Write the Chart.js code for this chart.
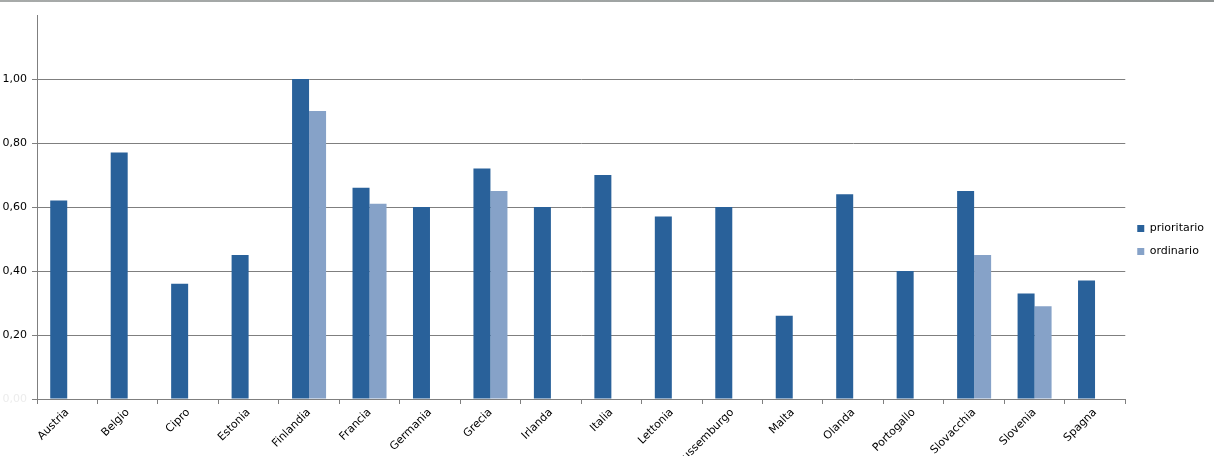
<!DOCTYPE html>
<html>
<head>
<meta charset="utf-8">
<script src="https://cdn.jsdelivr.net/npm/chart.js@4/dist/chart.umd.min.js"></script>
<style>
  html, body { margin: 0; padding: 0; background: #fff; overflow: hidden; }
  #wrap { position: relative; width: 1214px; height: 465px; }
  #topline { position: absolute; left: 0; top: 0; width: 1214px; height: 2px;
             background: linear-gradient(to right, #a7aaa9, #9ea3a2 60%, #8f9493); }
</style>
</head>
<body>
<div id="wrap">
  <canvas id="grafico" width="1214" height="465"></canvas>
  <div id="topline"></div>
</div>
<script>
// dati
const categorie = ['Austria', 'Belgio', 'Cipro', 'Estonia', 'Finlandia', 'Francia', 'Germania', 'Grecia', 'Irlanda',
    'Italia', 'Lettonia', 'Lussemburgo', 'Malta', 'Olanda', 'Portogallo', 'Slovacchia', 'Slovenia', 'Spagna'];
const prioritario = [0.62, 0.77, 0.36, 0.45, 1.00, 0.66, 0.60, 0.72, 0.60, 0.70, 0.57, 0.60, 0.26, 0.64, 0.40, 0.65, 0.33, 0.37];
const ordinario = [null, null, null, null, 0.90, 0.61, null, 0.65, null, null, null, null, null, null, null, 0.45, 0.29, null];
const yMax = 1.2;
const yStep = 0.2;

const grigio = '#7f7f7f';

function formatta(v) {
    return v.toFixed(2).replace('.', ',');
}

const ctx = document.getElementById('grafico').getContext('2d');
new Chart(ctx, {
    type: 'bar',
    data: {
        labels: categorie,
        datasets: [{
            label: 'prioritario',
            data: prioritario,
            backgroundColor: '#29619a',
            borderWidth: 0
        }, {
            label: 'ordinario',
            data: ordinario,
            backgroundColor: '#86a2c8',
            borderWidth: 0
        }]
    },
    options: {
        responsive: false,
        animation: false,
        layout: { padding: { top: 15, right: 0, left: 0, bottom: 0 } },
        datasets: {
            bar: { categoryPercentage: 0.5625, barPercentage: 1.0 }
        },
        plugins: {
            tooltip: { enabled: false },
            legend: {
                position: 'right',
                labels: {
                    boxWidth: 7,
                    boxHeight: 7,
                    padding: 12,
                    color: '#000',
                    font: { family: 'DejaVu Sans', size: 11 }
                }
            }
        },
        scales: {
            x: {
                grid: {
                    offset: true,
                    drawOnChartArea: false,
                    color: grigio,
                    tickLength: 5
                },
                border: { color: grigio, width: 1 },
                ticks: {
                    minRotation: 45,
                    maxRotation: 45,
                    autoSkip: false,
                    padding: 2,
                    color: '#000',
                    font: { family: 'DejaVu Sans', size: 11 }
                },
                afterFit: function (scale) { scale.height = 66; }
            },
            y: {
                min: 0,
                max: yMax,
                grid: {
                    color: c => (Math.abs(c.tick.value - yMax) < 1e-6 ? 'rgba(0,0,0,0)' : grigio),
                    tickLength: 5
                },
                border: { color: grigio, width: 1 },
                ticks: {
                    stepSize: yStep,
                    padding: 5,
                    color: c => (c.tick.value === 0 ? '#ececec' : '#000'),
                    font: { family: 'DejaVu Sans', size: 11 },
                    callback: v => (Math.abs(v - yMax) < 1e-6 ? '' : formatta(v))
                },
                afterFit: function (scale) { scale.width = 37; }
            }
        }
    }
});
</script>
</body>
</html>
